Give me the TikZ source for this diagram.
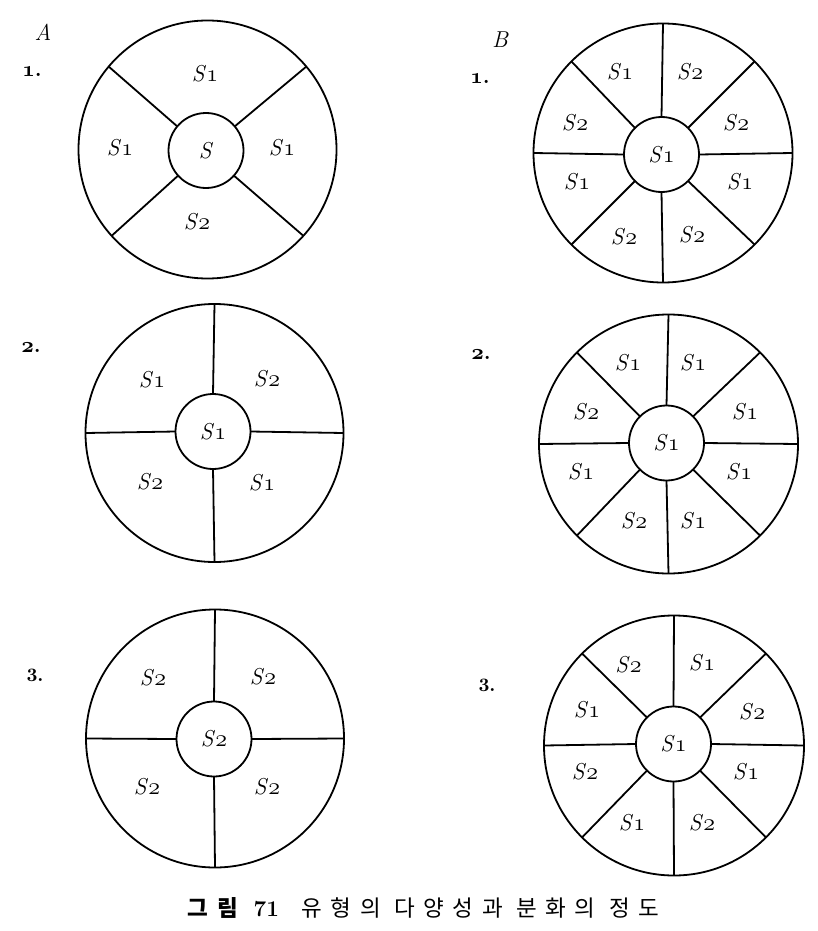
\documentclass[tikz,border=0pt]{standalone}
\usepackage{fontspec}
\usepackage{tikz}
\newfontfamily\korfont[LetterSpace=38]{Noto Sans CJK KR}
\newcommand\oldnum[1]{{\fontencoding{OML}\fontfamily{cmm}\fontshape{it}\selectfont #1}}
\newcommand\Sone{\textit{S}\oldnum{1}}
\newcommand\Stwo{\textit{S}\oldnum{2}}

\begin{document}
\begin{tikzpicture}[x=0.5pt,y=-0.5pt,
  rim/.style={circle,draw,line width=0.9pt,inner sep=0pt,outer sep=0pt,minimum size=#1},
  hub/.style={rim=37.5pt,font=\fontsize{11.5}{13}\selectfont},
  spoke/.style={line width=0.9pt},
  sect/.style={inner sep=0pt,font=\fontsize{11.5}{13}\selectfont},
  num/.style={inner sep=0pt,font=\fontsize{11}{12}\selectfont\bfseries}]
\useasboundingbox (0,0) rectangle (818,931);

% column A
\node[sect,font=\fontsize{11.5}{13}\selectfont\itshape] (colA) at (43,32) {A};
\node[num] (a1n) at (32,72) {\oldnum{1}.};
\node[num] (a2n) at (31,348) {\oldnum{2}.};
\node[num,font=\fontsize{9.5}{11}\selectfont\bfseries] (a3n) at (35,675) {3.};

\node[rim=129pt] (a1) at (207.5,149.5) {};
\node[hub] (a1h) at (206,150.5) {\textit{S}};
\foreach \a in {40,140,222,318} \draw[spoke] (a1h.\a) -- (a1.\a);
\node[sect] (a1t) at (205,74) {\Sone};
\node[sect] (a1l) at (120,148) {\Sone};
\node[sect] (a1r) at (282,148) {\Sone};
\node[sect] (a1b) at (197,222) {\Stwo};

\node[rim=129pt] (a2) at (214.5,433) {};
\node[hub] (a2h) at (213,431.5) {\Sone};
\foreach \a in {0,90,180,270} \draw[spoke] (a2h.\a) -- (a2.\a);
\node[sect] (a2tl) at (152,380) {\Sone};
\node[sect] (a2tr) at (267,379) {\Stwo};
\node[sect] (a2bl) at (150,482) {\Stwo};
\node[sect] (a2br) at (262,483) {\Sone};

\node[rim=129pt] (a3) at (215,738.5) {};
\node[hub] (a3h) at (214,739) {\Stwo};
\foreach \a in {0,90,180,270} \draw[spoke] (a3h.\a) -- (a3.\a);
\node[sect] (a3tl) at (153,678) {\Stwo};
\node[sect] (a3tr) at (263,677) {\Stwo};
\node[sect] (a3bl) at (147,787) {\Stwo};
\node[sect] (a3br) at (267,787) {\Stwo};

% column B
\node[sect,font=\fontsize{11.5}{13}\selectfont\itshape] (colB) at (500,40) {B};
\node[num] (b1n) at (480,79) {\oldnum{1}.};
\node[num] (b2n) at (481,355) {\oldnum{2}.};
\node[num,font=\fontsize{9.5}{11}\selectfont\bfseries] (b3n) at (487,685) {3.};

\node[rim=129.5pt] (b1) at (663,153) {};
\node[hub] (b1h) at (661.5,154.5) {\Sone};
\foreach \a in {0,45,...,315} \draw[spoke] (b1h.\a) -- (b1.\a);
\node[sect] (b1a) at (620,72) {\Sone};
\node[sect] (b1b) at (690,72) {\Stwo};
\node[sect] (b1c) at (575,123) {\Stwo};
\node[sect] (b1d) at (736,123) {\Stwo};
\node[sect] (b1e) at (577,182) {\Sone};
\node[sect] (b1f) at (740,182) {\Sone};
\node[sect] (b1g) at (624,237) {\Stwo};
\node[sect] (b1h2) at (692,235) {\Stwo};

\node[rim=129.5pt] (b2) at (668.5,444) {};
\node[hub] (b2h) at (666.5,443) {\Sone};
\foreach \a in {0,45,...,315} \draw[spoke] (b2h.\a) -- (b2.\a);
\node[sect] (b2a) at (628,363) {\Sone};
\node[sect] (b2b) at (693,363) {\Sone};
\node[sect] (b2c) at (586,412) {\Stwo};
\node[sect] (b2d) at (745,412) {\Sone};
\node[sect] (b2e) at (581,472) {\Sone};
\node[sect] (b2f) at (739,472) {\Sone};
\node[sect] (b2g) at (634,521) {\Stwo};
\node[sect] (b2h2) at (693,521) {\Sone};

\node[rim=130pt] (b3) at (674,745.5) {};
\node[hub] (b3h) at (673.5,744) {\Sone};
\foreach \a in {0,45,...,315} \draw[spoke] (b3h.\a) -- (b3.\a);
\node[sect] (b3a) at (628.5,665) {\Stwo};
\node[sect] (b3b) at (702,663) {\Sone};
\node[sect] (b3c) at (587,710) {\Sone};
\node[sect] (b3d) at (752,712) {\Stwo};
\node[sect] (b3e) at (585,772) {\Stwo};
\node[sect] (b3f) at (746,772) {\Sone};
\node[sect] (b3g) at (632,823) {\Sone};
\node[sect] (b3h2) at (702,823) {\Stwo};

% caption
\node[inner sep=0pt,font=\fontsize{11.25}{13}\selectfont] (caption) at (423.5,908)
  {{\korfont\bfseries 그림}\ \textbf{71}\quad{\korfont 유형의\ 다양성과\ 분화의\ 정도}};
\end{tikzpicture}
\end{document}
